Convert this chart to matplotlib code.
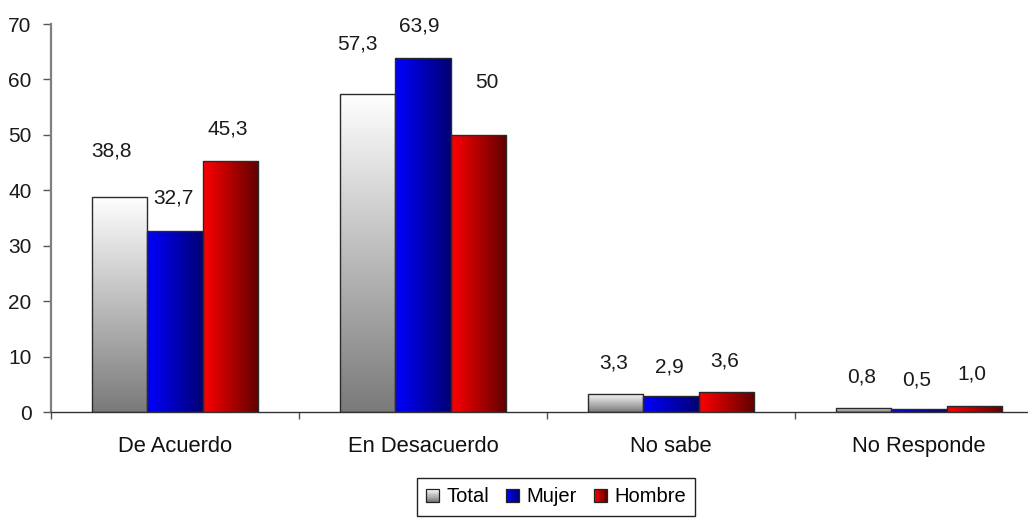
import numpy as np
import matplotlib
matplotlib.use("Agg")
import matplotlib.pyplot as plt
from matplotlib.patches import Rectangle
from matplotlib.legend_handler import HandlerBase
from matplotlib.colors import to_rgb
from matplotlib import font_manager

# ---------------- data ----------------
categories = ['De Acuerdo', 'En Desacuerdo', 'No sabe', 'No Responde']
series_names = ['Total', 'Mujer', 'Hombre']
total = [38.8, 57.3, 3.3, 0.8]
mujer = [32.7, 63.9, 2.9, 0.5]
hombre = [45.3, 50.0, 3.6, 1.0]
total_labels = ['38,8', '57,3', '3,3', '0,8']
mujer_labels = ['32,7', '63,9', '2,9', '0,5']
hombre_labels = ['45,3', '50', '3,6', '1,0']
yticks = [0, 10, 20, 30, 40, 50, 60, 70]

# ---------------- layout / style ----------------
total_label_y = [47.1, 66.4, 8.8, 6.3]
mujer_label_y = [38.6, 69.6, 8.1, 5.8]
hombre_label_y = [51.1, 59.4, 9.2, 6.9]
total_label_dx = [-0.032, -0.04, -0.008, -0.008]
mujer_label_dx = [-0.008, -0.016, -0.008, -0.008]
hombre_label_dx = [-0.012, 0.036, -0.008, -0.008]

_names = {f.name for f in font_manager.fontManager.ttflist}
_narrow = [n for n in ['Liberation Sans Narrow', 'Arial Narrow'] if n in _names]
NARROW = _narrow + ['Liberation Sans', 'DejaVu Sans']
ARIAL = ['Liberation Sans', 'DejaVu Sans']

grad_total = (['#FFFFFF', '#7A7A7A'], 'v')
grad_mujer = (['#0000FF', '#000074'], 'h')
grad_hombre = (['#FF0000', '#600000'], 'h')
edge_color = '#2a2a2a'

W, H = 1028, 520
fig = plt.figure(figsize=(W / 100, H / 100), dpi=100)
left_px, right_px, bottom_px, top_px = 51, 1043, 412, 24
ax = fig.add_axes([left_px / W, 1 - bottom_px / H,
                   (right_px - left_px) / W, (bottom_px - top_px) / H])

x = np.arange(len(categories))
bw = 0.223


def gradient_image(colors, direction, n=256):
    c0 = np.array(to_rgb(colors[0]))
    c1 = np.array(to_rgb(colors[1]))
    t = np.linspace(0, 1, n)
    arr = c0[None, :] * (1 - t[:, None]) + c1[None, :] * t[:, None]
    if direction == 'v':
        return arr[:, None, :]  # top -> bottom
    return arr[None, :, :]      # left -> right


def draw_gradient_bars(xpos, vals, grad):
    bars = ax.bar(xpos, vals, width=bw, facecolor='none',
                  edgecolor=edge_color, linewidth=1.0, zorder=3)
    img = gradient_image(*grad)
    for b in bars:
        x0, y0 = b.get_x(), b.get_y()
        w, h = b.get_width(), b.get_height()
        im = ax.imshow(img, extent=[x0, x0 + w, y0, y0 + h], aspect='auto',
                       origin='upper', zorder=2, interpolation='bilinear')
        im.set_clip_path(b)
    return bars


series = [(total, grad_total, total_labels, total_label_y, total_label_dx),
          (mujer, grad_mujer, mujer_labels, mujer_label_y, mujer_label_dx),
          (hombre, grad_hombre, hombre_labels, hombre_label_y, hombre_label_dx)]

for i, (vals, grad, labs, ly, ldx) in enumerate(series):
    xpos = x + (i - 1) * bw
    draw_gradient_bars(xpos, vals, grad)
    for xi, lab, yy, dx in zip(xpos, labs, ly, ldx):
        ax.text(xi + dx, yy, lab, ha='center', va='center',
                fontsize=15, family=NARROW, color='#1a1a1a', zorder=4)

ax.set_xlim(-0.5, len(categories) - 0.5)
ax.set_ylim(0, 70)

# axes styling
for s in ['top', 'right']:
    ax.spines[s].set_visible(False)
ax.spines['left'].set_color('#7f7f7f')
ax.spines['left'].set_linewidth(1.6)
ax.spines['bottom'].set_color('#333333')
ax.spines['bottom'].set_linewidth(1.0)

ax.set_yticks(yticks)
ax.set_yticklabels([str(t) for t in yticks], family=NARROW, fontsize=15,
                   color='#1a1a1a')
ax.tick_params(axis='y', direction='out', length=6, width=1, color='#555555',
               pad=8)

ax.set_xticks(x)
ax.set_xticklabels(categories, family=ARIAL, fontsize=15.8, color='#111111')
ax.tick_params(axis='x', which='major', length=0, pad=17)
ax.set_xticks(np.arange(len(categories) + 1) - 0.5, minor=True)
ax.tick_params(axis='x', which='minor', direction='out', length=5, width=1,
               color='#555555')


# legend with gradient squares
class GradHandler(HandlerBase):
    def __init__(self, grad, n=24):
        super().__init__()
        self.grad = grad
        self.n = n

    def create_artists(self, legend, orig_handle, xdescent, ydescent,
                       width, height, fontsize, trans):
        colors, direction = self.grad
        side = min(width, height)
        x0 = -xdescent + (width - side) / 2
        y0 = -ydescent + (height - side) / 2
        c0 = np.array(to_rgb(colors[0]))
        c1 = np.array(to_rgb(colors[1]))
        arts = []
        for k in range(self.n):
            t = k / (self.n - 1)
            c = c0 * (1 - t) + c1 * t
            if direction == 'h':
                r = Rectangle((x0 + side * k / self.n, y0), side / self.n,
                              side, facecolor=c, edgecolor='none',
                              transform=trans)
            else:
                r = Rectangle((x0, y0 + side * (1 - (k + 1) / self.n)), side,
                              side / self.n, facecolor=c, edgecolor='none',
                              transform=trans)
            arts.append(r)
        arts.append(Rectangle((x0, y0), side, side, facecolor='none',
                              edgecolor='#222222', linewidth=0.9,
                              transform=trans))
        return arts


handles = [Rectangle((0, 0), 1, 1) for _ in series_names]
hmap = {handles[0]: GradHandler(grad_total),
        handles[1]: GradHandler(grad_mujer),
        handles[2]: GradHandler(grad_hombre)}
leg = fig.legend(handles, series_names, handler_map=hmap, loc='center',
                 bbox_to_anchor=(556 / W, 1 - 497 / H), ncol=3,
                 frameon=True, fancybox=False, shadow=False, framealpha=1,
                 edgecolor='#222222', prop={'family': ARIAL, 'size': 14.5},
                 handlelength=0.65, handleheight=0.65, handletextpad=0.35,
                 columnspacing=0.85, borderpad=0.45, borderaxespad=0)
leg.get_frame().set_linewidth(1.0)

fig.savefig('out.png', dpi=100)
